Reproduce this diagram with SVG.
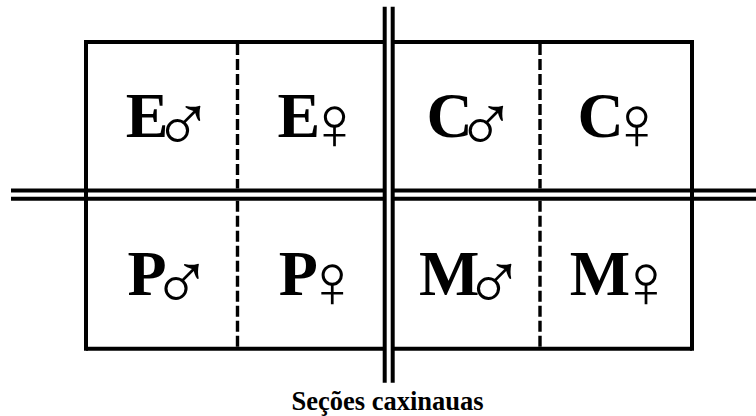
<svg xmlns="http://www.w3.org/2000/svg" width="756" height="416" viewBox="0 0 756 416">
<style>
.ln{stroke:#000;stroke-width:4;fill:none}
.dash{stroke:#000;stroke-width:3.4;fill:none;stroke-dasharray:11 4}
.lbl{font-family:"Liberation Serif","Times New Roman",serif;font-weight:bold;font-size:64px;fill:#000;text-anchor:middle}
.m{font-family:"DejaVu Sans",sans-serif;font-weight:200;font-size:82px}
.f{font-family:"DejaVu Sans",sans-serif;font-weight:200;font-size:76px}
.cap{font-family:"Liberation Serif","Times New Roman",serif;font-weight:bold;font-size:26.5px;fill:#000;text-anchor:middle}
</style>
<rect width="756" height="416" fill="#fff"/>
<g id="connectors">
<line class="ln" x1="86" y1="42" x2="384.7" y2="42"/>
<line class="ln" x1="392.7" y1="42" x2="692" y2="42"/>
<line class="ln" x1="86" y1="348.7" x2="384.7" y2="348.7"/>
<line class="ln" x1="392.7" y1="348.7" x2="692" y2="348.7"/>
<line class="ln" x1="86" y1="40" x2="86" y2="350.7"/>
<line class="ln" x1="692" y1="40" x2="692" y2="350.7"/>
<line class="ln" x1="11" y1="190.5" x2="384.7" y2="190.5"/>
<line class="ln" x1="11" y1="198.7" x2="384.7" y2="198.7"/>
<line class="ln" x1="392.7" y1="190.5" x2="756" y2="190.5"/>
<line class="ln" x1="392.7" y1="198.7" x2="756" y2="198.7"/>
<line class="ln" x1="384.7" y1="6.7" x2="384.7" y2="382.7"/>
<line class="ln" x1="392.7" y1="6.7" x2="392.7" y2="382.7"/>
<line class="dash" x1="237.5" y1="44" x2="237.5" y2="188.5"/>
<line class="dash" x1="237.5" y1="200.7" x2="237.5" y2="346.7"/>
<line class="dash" x1="540" y1="44" x2="540" y2="188.5"/>
<line class="dash" x1="540" y1="200.7" x2="540" y2="346.7"/>
</g>
<g id="cell-e-m"><text class="lbl"><tspan x="147" y="137">E</tspan><tspan class="m" x="183" y="151.5">♂</tspan></text></g>
<g id="cell-e-f"><text class="lbl"><tspan x="298.8" y="137">E</tspan><tspan class="f" x="334.2" y="149.2">♀</tspan></text></g>
<g id="cell-c-m"><text class="lbl"><tspan x="449.6" y="137">C</tspan><tspan class="m" x="485.8" y="151.5">♂</tspan></text></g>
<g id="cell-c-f"><text class="lbl"><tspan x="600.5" y="137">C</tspan><tspan class="f" x="636.4" y="149.2">♀</tspan></text></g>
<g id="cell-p-m"><text class="lbl"><tspan x="147" y="295">P</tspan><tspan class="m" x="181.5" y="309.5">♂</tspan></text></g>
<g id="cell-p-f"><text class="lbl"><tspan x="298.3" y="295">P</tspan><tspan class="f" x="331.9" y="307.2">♀</tspan></text></g>
<g id="cell-m-m"><text class="lbl"><tspan x="449.2" y="295">M</tspan><tspan class="m" x="494.1" y="309.5">♂</tspan></text></g>
<g id="cell-m-f"><text class="lbl"><tspan x="599.9" y="295">M</tspan><tspan class="f" x="645.8" y="307.2">♀</tspan></text></g>
<g id="caption"><text class="cap" x="387.5" y="410">Seções caxinauas</text></g>
</svg>
